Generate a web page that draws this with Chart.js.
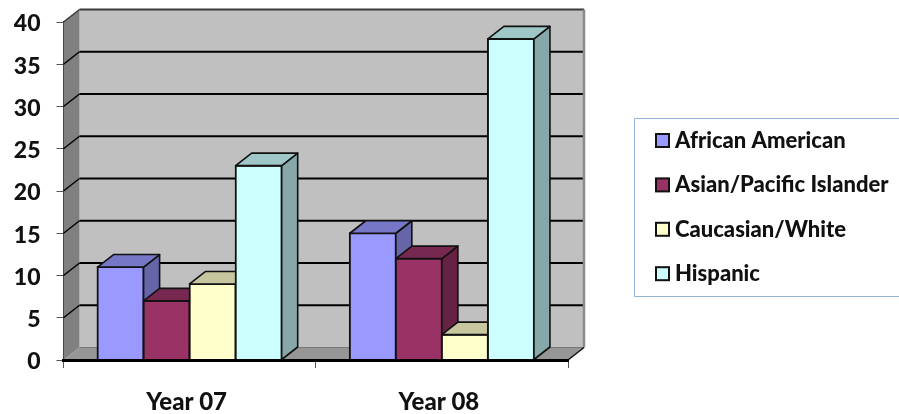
<!DOCTYPE html>
<html>
<head>
<meta charset="utf-8">
<title>Enrollment by group</title>
<style>
  html, body { margin: 0; padding: 0; background: #fff; }
  canvas { display: block; }
</style>
<script src="https://cdn.jsdelivr.net/npm/chart.js@4"></script>
</head>
<body>
<canvas id="myChart" width="899" height="414"></canvas>
<script>
const categories = ['Year 07', 'Year 08'];
const seriesNames = ['African American', 'Asian/Pacific Islander', 'Caucasian/White', 'Hispanic'];
const africanAmerican = [11, 15];
const asianPacific = [7, 12];
const caucasianWhite = [9, 3];
const hispanic = [23, 38];
const seriesValues = [africanAmerican, asianPacific, caucasianWhite, hispanic];
const seriesColors = ['#9999FF', '#993366', '#FFFFCC', '#CCFFFF'];

const FONT = 'Lato, "Open Sans", sans-serif';
const DEPTH_X = 16;
const DEPTH_Y = 12.5;
const INK = '#111111';

// darker version of a hex colour for the side and top faces
function shade(hex, k) {
    const n = parseInt(hex.slice(1), 16);
    const r = Math.round((n >> 16 & 255) * k);
    const g = Math.round((n >> 8 & 255) * k);
    const b = Math.round((n & 255) * k);
    return 'rgb(' + r + ',' + g + ',' + b + ')';
}

function polygon(ctx, points, fill, stroke, width) {
    ctx.beginPath();
    points.forEach((p, i) => i ? ctx.lineTo(p[0], p[1]) : ctx.moveTo(p[0], p[1]));
    ctx.closePath();
    if (fill) {
        ctx.fillStyle = fill;
        ctx.fill();
    }
    if (stroke) {
        ctx.strokeStyle = stroke;
        ctx.lineWidth = width;
        ctx.stroke();
    }
}

function line(ctx, x1, y1, x2, y2, color, width) {
    ctx.beginPath();
    ctx.moveTo(x1, y1);
    ctx.lineTo(x2, y2);
    ctx.strokeStyle = color;
    ctx.lineWidth = width;
    ctx.stroke();
}

// back wall, side wall, floor and the gridlines running over them
function drawRoom(chart) {
    const ctx = chart.ctx;
    const { left, right, top, bottom } = chart.chartArea;
    const yScale = chart.scales.y;

    polygon(ctx, [[left + DEPTH_X, top - DEPTH_Y], [right + DEPTH_X, top - DEPTH_Y],
        [right + DEPTH_X, bottom - DEPTH_Y], [left + DEPTH_X, bottom - DEPTH_Y]], '#C0C0C0');
    polygon(ctx, [[left, top], [left + DEPTH_X, top - DEPTH_Y],
        [left + DEPTH_X, bottom - DEPTH_Y], [left, bottom]], '#808080');
    polygon(ctx, [[left, bottom], [left + DEPTH_X, bottom - DEPTH_Y],
        [right + DEPTH_X, bottom - DEPTH_Y], [right, bottom]], '#969696');

    yScale.ticks.forEach(tick => {
        if (tick.value === 0) return;
        const y = yScale.getPixelForValue(tick.value);
        const color = tick.value === yScale.max ? '#3a3a3a' : '#000000';
        line(ctx, left, y, left + DEPTH_X, y - DEPTH_Y, color, 1.5);
        line(ctx, left + DEPTH_X, y - DEPTH_Y, right + DEPTH_X, y - DEPTH_Y, color, 2);
    });

    line(ctx, right + DEPTH_X, top - DEPTH_Y, right + DEPTH_X, bottom - DEPTH_Y, '#8a8a8a', 2.5);
    line(ctx, left + DEPTH_X, bottom - DEPTH_Y, right + DEPTH_X, bottom - DEPTH_Y, '#777777', 1);
    line(ctx, right, bottom, right + DEPTH_X, bottom - DEPTH_Y, '#111111', 1.5);
}

// a column's top and right face
function drawFaces(ctx, bar, color) {
    const { x, y, base, width } = bar.getProps(['x', 'y', 'base', 'width'], true);
    const l = x - width / 2;
    const r = x + width / 2;
    polygon(ctx, [[r, y], [r + DEPTH_X, y - DEPTH_Y], [r + DEPTH_X, base - DEPTH_Y], [r, base]],
        shade(color, 0.66), INK, 1.6);
    polygon(ctx, [[l, y], [l + DEPTH_X, y - DEPTH_Y], [r + DEPTH_X, y - DEPTH_Y], [r, y]],
        shade(color, 0.78), INK, 1.6);
}

const roomPlugin = {
    id: 'room',
    // paint series left to right so each front covers its neighbour's side face
    beforeDatasetsDraw(chart) {
        const ctx = chart.ctx;
        ctx.save();
        ctx.lineJoin = 'round';
        drawRoom(chart);
        seriesNames.forEach((name, i) => {
            const meta = chart.getDatasetMeta(i);
            meta.controller.draw();
            meta.data.forEach(bar => drawFaces(ctx, bar, seriesColors[i]));
        });
        ctx.restore();
        return false;
    }
};

// boxed key to the right of the plot
const keyPlugin = {
    id: 'key',
    afterDraw(chart) {
        const ctx = chart.ctx;
        ctx.save();
        ctx.strokeStyle = '#95B3D7';
        ctx.lineWidth = 1;
        ctx.beginPath();
        ctx.moveTo(899, 118.5);
        ctx.lineTo(634.5, 118.5);
        ctx.lineTo(634.5, 296.5);
        ctx.lineTo(899, 296.5);
        ctx.stroke();

        ctx.font = '900 22px ' + FONT;
        ctx.textBaseline = 'middle';
        ctx.textAlign = 'left';
        chart.data.datasets.forEach((ds, i) => {
            const y = 141 + i * 44.4;
            ctx.fillStyle = ds.backgroundColor;
            ctx.strokeStyle = INK;
            ctx.lineWidth = 2;
            ctx.fillRect(656, y - 7, 13, 13);
            ctx.strokeRect(656, y - 7, 13, 13);
            ctx.fillStyle = INK;
            ctx.fillText(ds.label, 675, y);
        });
        ctx.restore();
    }
};

const chart = new Chart(document.getElementById('myChart').getContext('2d'), {
    type: 'bar',
    data: {
        labels: categories,
        datasets: seriesNames.map((name, i) => ({
            label: name,
            data: seriesValues[i],
            backgroundColor: seriesColors[i],
            borderColor: INK,
            borderWidth: 2,
            inflateAmount: 1
        }))
    },
    options: {
        responsive: false,
        animation: false,
        categoryPercentage: 0.73,
        barPercentage: 1,
        layout: { padding: { left: 0, top: 22, right: 331, bottom: 0 } },
        plugins: {
            legend: { display: false },
            tooltip: { enabled: false }
        },
        scales: {
            x: {
                afterFit(scale) { scale.height = 54; },
                grid: { drawOnChartArea: false, tickLength: 8, tickColor: '#555555', offset: true },
                border: { color: '#000000', width: 3, z: 1 },
                ticks: {
                    color: INK,
                    padding: 20,
                    labelOffset: -3,
                    maxRotation: 0,
                    font: { family: FONT, size: 24, weight: '900' }
                }
            },
            y: {
                min: 0,
                max: 40,
                // the tick font would otherwise push the plot top down
                afterFit(scale) {
                    scale.width = 63.5;
                    scale.paddingTop = 0;
                    scale.paddingBottom = 0;
                },
                grid: { drawOnChartArea: false, tickLength: 7, tickColor: '#555555' },
                border: { color: '#111111', width: 2 },
                ticks: {
                    stepSize: 5,
                    color: INK,
                    padding: 16,
                    labelOffset: 2,
                    font: { family: FONT, size: 23, weight: '900' }
                }
            }
        }
    },
    plugins: [roomPlugin, keyPlugin]
});
</script>
</body>
</html>
